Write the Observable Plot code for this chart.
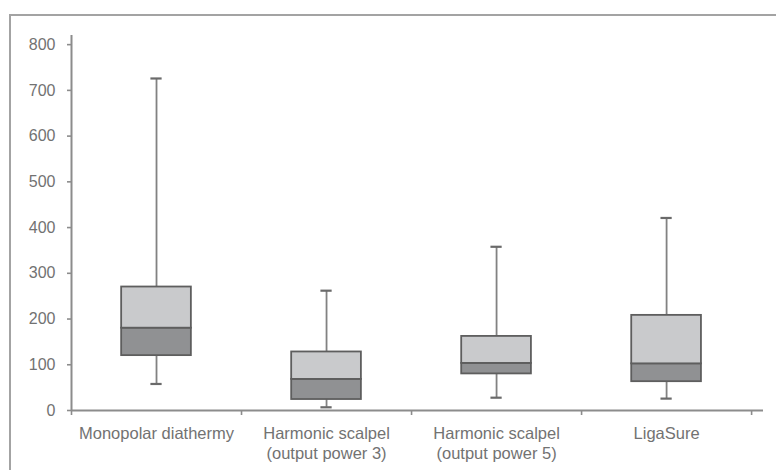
<!DOCTYPE html>
<html>
<head>
<meta charset="utf-8">
<script src="https://cdn.jsdelivr.net/npm/d3@7"></script>
<script src="https://cdn.jsdelivr.net/npm/@observablehq/plot@0.6"></script>
<style>
  html, body { margin: 0; padding: 0; background: #fff; }
  #wrap { position: relative; width: 776px; height: 470px; overflow: hidden; }
  #frame { position: absolute; left: 9px; top: 14px; width: 800px; height: 500px;
           border-top: 2px solid #a3a3a3; border-left: 2px solid #a3a3a3; }
  #chart { position: absolute; left: 0; top: 0; }
</style>
</head>
<body>
<div id="wrap"><div id="frame"></div><div id="chart"></div></div>
<script>
const categories = ["Monopolar diathermy", "Harmonic scalpel\n(output power 3)", "Harmonic scalpel\n(output power 5)", "LigaSure"];
const whiskerLow = [58, 7, 28, 26];
const q1 = [120, 24, 80, 63];
const median = [180, 68, 103, 102];
const q3 = [270, 128, 162, 208];
const whiskerHigh = [726, 262, 358, 421];
const yTicks = [0, 100, 200, 300, 400, 500, 600, 700, 800];
const bandEdges = [0, 1, 2, 3, 4];

const data = categories.map((c, i) => ({
  i, c, lo: whiskerLow[i], q1: q1[i], med: median[i], q3: q3[i], hi: whiskerHigh[i]
}));
const cx = d => d.i + 0.5;
const half = 0.205;
const cap = 0.033;

const lineCol = "#8c8c8c";
const textCol = "#727272";

const plot = Plot.plot({
  width: 776,
  height: 470,
  marginLeft: 71,
  marginRight: 13,
  marginTop: 35,
  marginBottom: 60,
  style: { fontFamily: "'Liberation Sans', Arial, sans-serif", background: "transparent" },
  x: { domain: [0, 4.07] },
  y: { domain: [0, 820] },
  marks: [
    Plot.axisY({ ticks: yTicks, tickSize: 4, tickPadding: 12, fontSize: 16, color: textCol, stroke: lineCol, strokeWidth: 1.6, label: null }),
    Plot.axisX({ ticks: bandEdges, tickSize: 5, tickFormat: () => "", stroke: lineCol, strokeWidth: 1.6, label: null }),
    Plot.ruleX([0], { stroke: lineCol, strokeWidth: 2 }),
    Plot.ruleY([0], { stroke: lineCol, strokeWidth: 2 }),
    // whiskers
    Plot.ruleX(data, { x: cx, y1: "lo", y2: "hi", stroke: "#828282", strokeWidth: 1.8 }),
    Plot.ruleY(data, { y: "hi", x1: d => cx(d) - cap, x2: d => cx(d) + cap, stroke: "#6a6a6a", strokeWidth: 2.2 }),
    Plot.ruleY(data, { y: "lo", x1: d => cx(d) - cap, x2: d => cx(d) + cap, stroke: "#6a6a6a", strokeWidth: 2.2 }),
    // box lower (Q1 - median)
    Plot.rect(data, { x1: d => cx(d) - half, x2: d => cx(d) + half, y1: "q1", y2: "med", fill: "#909193", stroke: "#5e5e5e", strokeWidth: 1.8 }),
    // box upper (median - Q3)
    Plot.rect(data, { x1: d => cx(d) - half, x2: d => cx(d) + half, y1: "med", y2: "q3", fill: "#c9cacc", stroke: "#5e5e5e", strokeWidth: 1.8 }),
    // category labels
    Plot.text(data, { x: cx, y: () => 0, text: "c", dy: 14, lineAnchor: "top", lineHeight: 1.22, fontSize: 16.5, fill: textCol })
  ]
});
document.getElementById("chart").appendChild(plot);
</script>
</body>
</html>
